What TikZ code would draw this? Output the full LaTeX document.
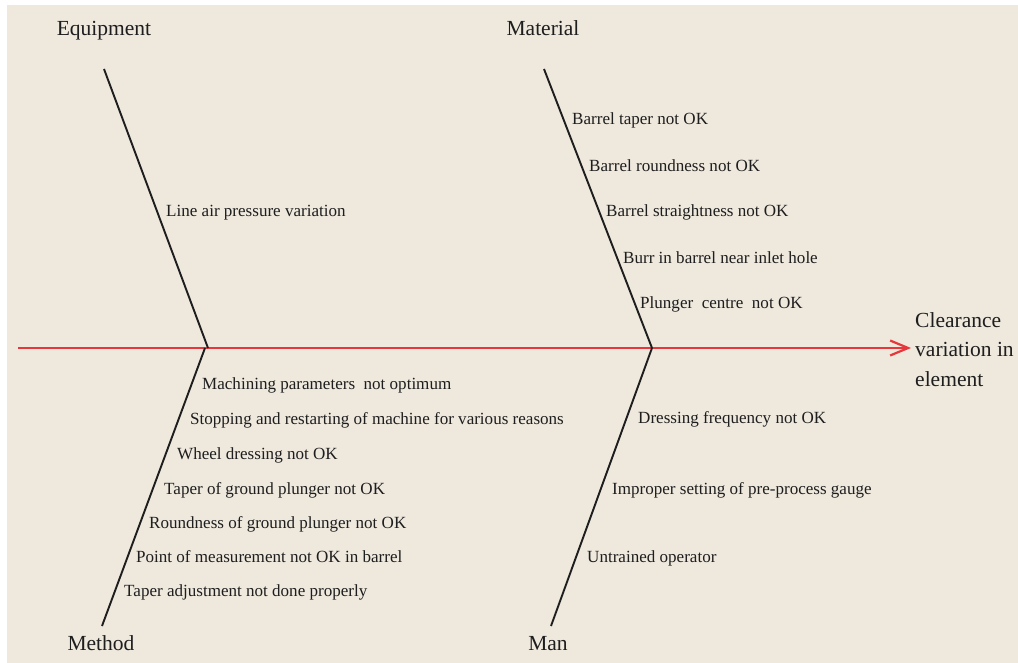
\documentclass[tikz,border=0pt]{standalone}
\usepackage{fontspec}
\setmainfont{Liberation Serif}
\usetikzlibrary{arrows.meta}
\definecolor{bg}{RGB}{238,232,221}
\definecolor{spinered}{RGB}{230,55,60}
\definecolor{ink}{RGB}{30,30,30}
\tikzset{
  bone/.style={draw=ink, line width=1.9pt},
  spine/.style={draw=spinered, line width=2.2pt, -{Straight Barb[length=18pt,width=15pt,line width=2.2pt]}},
  cause/.style={anchor=base west, inner sep=0pt, text=ink, font=\fontsize{17.05}{20}\selectfont},
  category/.style={anchor=base, inner sep=0pt, text=ink, font=\fontsize{21.5}{29.5}\selectfont},
  effect/.style={anchor=north west, inner sep=0pt, text=ink, align=left, font=\fontsize{21.5}{29.5}\selectfont}
}
\begin{document}
\begin{tikzpicture}[x=1pt,y=-1pt]
\useasboundingbox (0,0) rectangle (1018,663);
\fill[bg] (7,5) rectangle (1018,663);

% coordinates of bones
\coordinate (tail) at (18,348);
\coordinate (eqtop) at (104,69);
\coordinate (eqj) at (208,348);
\coordinate (mttop) at (544,69);
\coordinate (mtj) at (652,348);
\coordinate (methj) at (205,348);
\coordinate (methbot) at (102,626);
\coordinate (manj) at (652,348);
\coordinate (manbot) at (551,626);

% effect
\node[effect] (head) at (915,312) {Clearance\\variation in\\element};
\coordinate (tip) at (911,348);

% spine
\draw[spine] (tail) -- (tip);

% bones
\draw[bone] (eqtop) -- (eqj);
\draw[bone] (mttop) -- (mtj);
\draw[bone] (methj) -- (methbot);
\draw[bone] (manj) -- (manbot);

% categories
\node[category] (equip) at (104,36) {Equipment};
\node[category] (mat) at (543,36) {Material};
\node[category] (meth) at (101,650) {Method};
\node[category] (man) at (548,650) {Man};

% material causes
\node[cause] (m1) at (572,124.5) {Barrel taper not OK};
\node[cause] (m2) at (589,171.5) {Barrel roundness not OK};
\node[cause] (m3) at (606,216.5) {Barrel straightness not OK};
\node[cause] (m4) at (623,263.5) {Burr in barrel near inlet hole};
\node[cause] (m5) at (640,308.5) {Plunger\ \ centre\ \ not OK};

% equipment causes
\node[cause] (e1) at (166,216.5) {Line air pressure variation};

% method causes
\node[cause] (d1) at (202,389) {Machining parameters\ \ not optimum};
\node[cause] (d2) at (190,424) {Stopping and restarting of machine for various reasons};
\node[cause] (d3) at (177,459) {Wheel dressing not OK};
\node[cause] (d4) at (164,494) {Taper of ground plunger not OK};
\node[cause] (d5) at (149,528) {Roundness of ground plunger not OK};
\node[cause] (d6) at (136,562) {Point of measurement not OK in barrel};
\node[cause] (d7) at (124,596) {Taper adjustment not done properly};

% man causes
\node[cause] (n1) at (638,423) {Dressing frequency not OK};
\node[cause] (n2) at (612,494) {Improper setting of pre-process gauge};
\node[cause] (n3) at (587,562) {Untrained operator};
\end{tikzpicture}
\end{document}
